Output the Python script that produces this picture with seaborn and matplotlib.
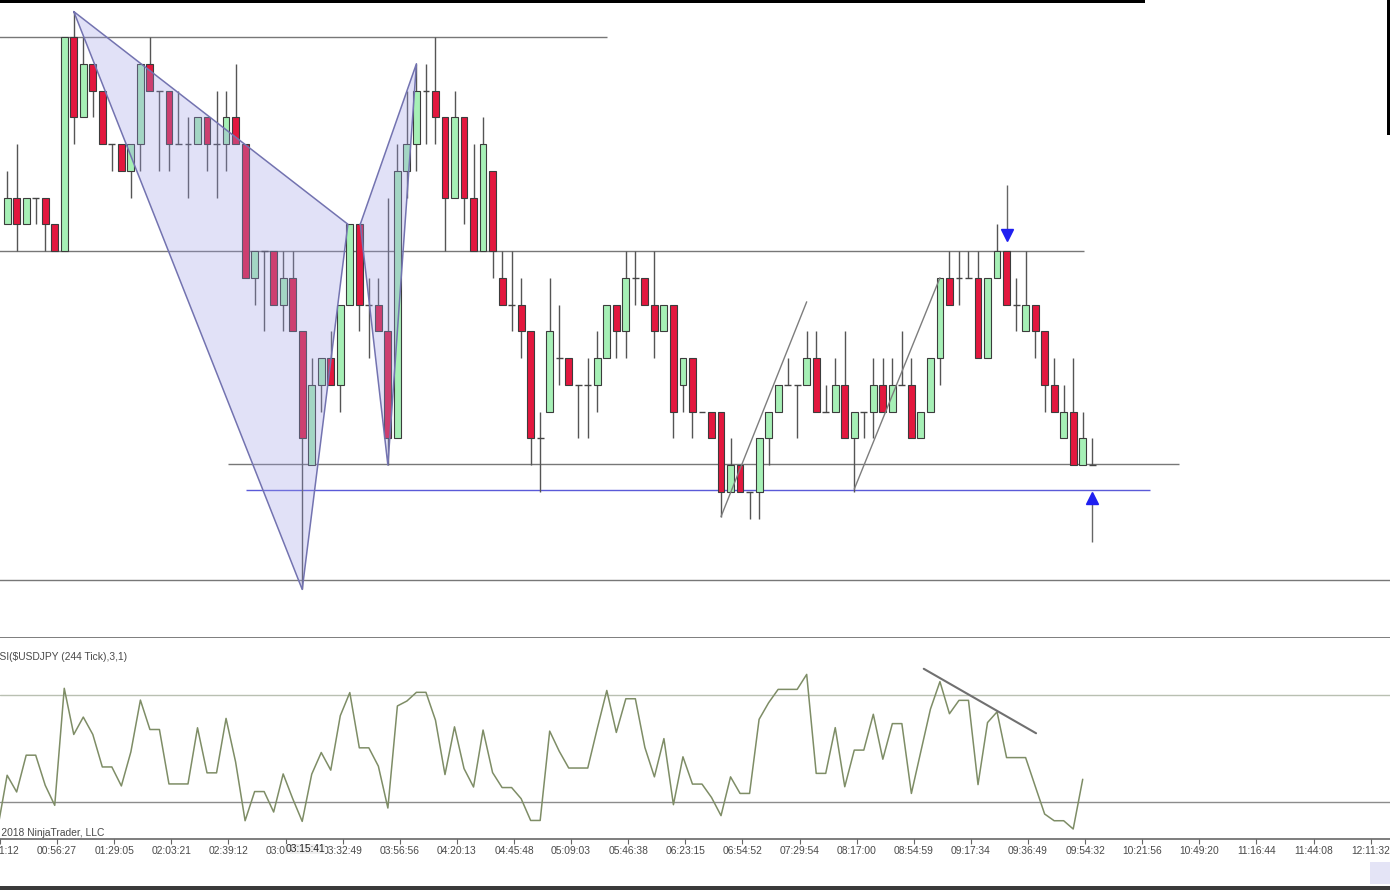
import matplotlib.pyplot as plt
import numpy as np
import pandas as pd
import seaborn as sns
from matplotlib.patches import Rectangle

# price in tick levels (one level = one box on the chart), one entry per bar
opens = [13, 14, 13, 14, 14, 13, 12, 20, 17, 19,
         18, 16, 16, 15, 16, 19, 18, 18, 16, 16,
         16, 17, 16, 16, 17, 16, 11, 12, 12, 10,
         11, 9, 4, 7, 8, 7, 10, 13, 10, 10,
         9, 5, 15, 16, 18, 18, 17, 14, 17, 14,
         12, 15, 11, 10, 10, 9, 5, 6, 8, 8,
         7, 7, 7, 8, 10, 9, 11, 11, 10, 9,
         10, 7, 8, 6, 6, 6, 3, 4, 3, 3,
         5, 6, 7, 7, 7, 8, 6, 6, 7, 5,
         6, 6, 7, 6, 7, 7, 5, 6, 8, 11,
         11, 11, 11, 8, 11, 12, 10, 9, 10, 9,
         7, 5, 6, 4, 4]
closes = [14, 13, 14, 14, 13, 12, 20, 17, 19, 18,
          16, 16, 15, 16, 19, 18, 18, 16, 16, 16,
          17, 16, 16, 17, 16, 11, 12, 12, 10, 11,
          9, 5, 7, 8, 7, 10, 13, 10, 10, 9,
          5, 15, 16, 18, 18, 17, 14, 17, 14, 12,
          16, 12, 10, 10, 9, 5, 5, 9, 8, 7,
          7, 7, 8, 10, 9, 11, 11, 10, 9, 10,
          6, 8, 6, 6, 5, 3, 4, 3, 3, 5,
          6, 7, 7, 7, 8, 6, 6, 7, 5, 6,
          6, 7, 6, 7, 7, 5, 6, 8, 11, 10,
          11, 11, 8, 11, 12, 10, 10, 10, 9, 7,
          6, 6, 4, 5, 4]
highs = [15, 16, 14, 14, 14, 13, 20, 20.95, 20, 19,
         18, 16, 16, 16, 19, 20, 18, 18, 18, 17,
         17, 17, 18, 18, 19, 16, 12, 12, 12, 12,
         12, 9, 8, 8, 9, 10, 13, 13, 11, 11,
         14, 16, 18, 19, 19, 20, 17, 18, 17, 16,
         17, 15, 12, 12, 11, 9, 6, 11, 10, 8,
         7, 8, 9, 10, 10, 12, 12, 11, 12, 10,
         10, 8, 8, 6, 6, 6, 5, 4, 3, 5,
         6, 7, 8, 7, 9, 9, 7, 8, 9, 6,
         6, 8, 8, 8, 9, 8, 6, 8, 11, 12,
         12, 12, 12, 11, 13, 12, 11, 12, 10, 9,
         8, 7, 8, 6, 5]
lows = [13, 12, 13, 13, 12, 12, 12, 16, 17, 17,
        16, 15, 15, 14, 15, 18, 15, 15, 16, 14,
        16, 15, 14, 15, 16, 11, 10, 9, 10, 9,
        9, -0.65, 4, 6, 7, 6, 10, 9, 8, 9,
        4, 5, 14, 15, 16, 16, 12, 14, 13, 12,
        12, 11, 10, 9, 8, 4, 3, 6, 7, 7,
        5, 5, 6, 8, 8, 8, 10, 10, 8, 9,
        5, 6, 5, 6, 5, 2.07, 3, 3, 2, 2,
        4, 6, 7, 5, 7, 6, 6, 6, 5, 3,
        5, 5, 6, 6, 7, 5, 5, 6, 7, 10,
        10, 11, 8, 8, 11, 10, 9, 9, 8, 6,
        6, 5, 4, 4, 4]

# RSI(3,1), first value belongs to the bar just left of the visible window
rsi_values = [20, 40, 33.75, 47.5, 47.5, 36.25, 28.75, 72.5, 55.25, 61.75,
              55.25, 43.1, 43.1, 36, 48.75, 68.1, 57.1, 57.1, 36.75, 36.75,
              36.75, 57.75, 40.9, 40.9, 61.25, 45, 23, 33.9, 33.9, 26.25,
              40.5, 31.25, 22.75, 40.4, 48.5, 41.9, 62.25, 70.9, 50.25, 50.25,
              43.4, 27.75, 65.9, 67.75, 71, 71, 60.6, 40.25, 58.1, 42.5,
              35.6, 56.9, 41, 35.4, 35.4, 31.25, 23.1, 23.1, 56.5, 49,
              42.7, 42.7, 42.7, 57.5, 71.7, 56, 68.6, 68.6, 50.4, 39.4,
              53.7, 29, 46.9, 36.7, 36.7, 31.7, 24.9, 39.4, 33.2, 33.2,
              60.9, 67.1, 72.1, 72.1, 72.1, 77.7, 40.7, 40.7, 57.8, 35.7,
              49.4, 49.4, 62.8, 46, 59.3, 59.3, 33.2, 49, 64.7, 75,
              63, 68, 68, 36.5, 59.7, 63.7, 46.6, 46.6, 46.6, 36,
              25.5, 23, 23, 19.9, 38.5]
rsi_levels = [70, 30]

time_labels = ["00:31:12", "00:56:27", "01:29:05", "02:03:21", "02:39:12", "03:07:35",
               "03:32:49", "03:56:56", "04:20:13", "04:45:48", "05:09:03", "05:46:38",
               "06:23:15", "06:54:52", "07:29:54", "08:17:00", "08:54:59", "09:17:34",
               "09:36:49", "09:54:32", "10:21:56", "10:49:20", "11:16:44", "11:44:08",
               "12:11:32"]
cursor_label = "03:15:41"

# drawing objects (bar index, price level)
pattern_xab = [(7, 20.95), (31, -0.65), (35.8, 13.0)]
pattern_bcd = [(37.1, 13.0), (43, 19.0), (40, 4.0)]
zigzag_1 = [(75, 2.07), (84, 10.1)]
zigzag_2 = [(89, 3.1), (98, 11.0)]
h_lines = [(20, -1, 63), (12, -1, 113.1), (4.04, 23.2, 123.1), (-0.3, -1, 146)]
blue_line = (3.07, 25.05, 120.1)
short_arrow = (105, 14.47, 12.6)
long_arrow = (114, 1.13, 2.75)
rsi_divergence = [(96.3, 79.8), (108.1, 55.7)]

sns.set_theme(style="white")
plt.rcParams["font.family"] = ["Liberation Sans", "DejaVu Sans"]

df = pd.DataFrame({"open": opens, "high": highs, "low": lows, "close": closes})
df["bar"] = np.arange(len(df))
rsi = pd.DataFrame({"bar": np.arange(-1, len(rsi_values) - 1), "rsi": rsi_values})

W, H = 1390, 890
fig = plt.figure(figsize=(W / 100, H / 100), dpi=100)
fig.patch.set_facecolor("white")
ax = fig.add_axes([0, 1 - 638 / H, 1, 638 / H])
ax2 = fig.add_axes([0, 1 - 839 / H, 1, 201 / H], sharex=ax)

bar_px = 9.54
x_left = -4 / bar_px
ax.set_xlim(x_left, x_left + W / bar_px)
ax.set_ylim(20 - (638 - 37) / 26.75, 20 + 37 / 26.75)

green = "#a6f0b6"
red = "#e3173e"
up = df["close"] > df["open"]
down = df["close"] < df["open"]
flat = df["close"] == df["open"]

ax.vlines(df["bar"], df["low"], df["high"], color="#555555", lw=1, zorder=2)
ax.bar(df.loc[up, "bar"], df.loc[up, "close"] - df.loc[up, "open"], bottom=df.loc[up, "open"],
       width=0.72, color=green, edgecolor="#3c3c3c", linewidth=0.8, zorder=3)
ax.bar(df.loc[down, "bar"], df.loc[down, "open"] - df.loc[down, "close"], bottom=df.loc[down, "close"],
       width=0.72, color=red, edgecolor="#3c3c3c", linewidth=0.8, zorder=3)
ax.hlines(df.loc[flat, "close"], df.loc[flat, "bar"] - 0.36, df.loc[flat, "bar"] + 0.36,
          color="#444444", lw=1, zorder=3)

for y, x0, x1 in h_lines:
    ax.hlines(y, x0, x1, color="#777777", lw=1.0, zorder=1)
ax.hlines(blue_line[0], blue_line[1], blue_line[2], color="#5a5ad8", lw=1.0, zorder=1)

for tri in (pattern_xab, pattern_bcd):
    xs = [p[0] for p in tri]
    ys = [p[1] for p in tri]
    ax.fill(xs, ys, facecolor="#9d9de6", alpha=0.3, edgecolor="none", zorder=4)
    ax.plot(xs + xs[:1], ys + ys[:1], color="#7373b0", lw=1.1, zorder=5)

for seg in (zigzag_1, zigzag_2):
    ax.plot([p[0] for p in seg], [p[1] for p in seg], color="#7d7d7d", lw=1.0, zorder=5)

# signal arrows
bx, top, head = short_arrow
ax.vlines(bx, head, top, color="#666666", lw=1, zorder=5)
ax.plot([bx], [head], marker="v", ms=9, color="#1f1ff0", mec="#1f1ff0", zorder=6)
bx, bottom, head = long_arrow
ax.vlines(bx, bottom, head, color="#666666", lw=1, zorder=5)
ax.plot([bx], [head], marker="^", ms=9, color="#1f1ff0", mec="#1f1ff0", zorder=6)

ax.tick_params(axis="both", which="both", bottom=False, left=False,
               labelbottom=False, labelleft=False)
for s in ["top", "left", "right"]:
    ax.spines[s].set_visible(False)
ax.spines["bottom"].set_color("#5a5a5a")
ax.spines["bottom"].set_linewidth(1.1)

# RSI panel
ax2.set_ylim(30 - (839 - 802) / 2.675, 70 + (695 - 638) / 2.675)
ax2.axhline(rsi_levels[0], color="#b9c0b2", lw=1.0, zorder=1)
ax2.axhline(rsi_levels[1], color="#8c8c8c", lw=1.0, zorder=1)
sns.lineplot(data=rsi, x="bar", y="rsi", ax=ax2, color="#7e8d66", lw=1.1, zorder=3)
ax2.plot([p[0] for p in rsi_divergence], [p[1] for p in rsi_divergence],
         color="#707070", lw=1.5, zorder=4)

ticks = 5.25 + 6 * np.arange(-1, len(time_labels) - 1)
ax2.set_xticks(ticks)
ax2.set_xticklabels(time_labels, fontsize=7.4, color="#4a4a4a")
ax2.tick_params(axis="x", length=3.5, width=0.8, color="#666666", pad=1.2, bottom=True)
ax2.set_yticks([])
ax2.set_xlabel("")
ax2.set_ylabel("")
for s in ["top", "left", "right"]:
    ax2.spines[s].set_visible(False)
ax2.spines["bottom"].set_color("#5a5a5a")
ax2.spines["bottom"].set_linewidth(1.1)

fig.text(305 / W, 1 - 849 / H, cursor_label, fontsize=7.4, color="#222222", ha="center", va="center",
         bbox=dict(facecolor="#f0f0f0", edgecolor="none", pad=0.3))
fig.text(-8 / W, 1 - 657 / H, "RSI($USDJPY (244 Tick),3,1)", fontsize=7.4, color="#4a4a4a",
         ha="left", va="center")
fig.text(-9 / W, 1 - 833 / H, "© 2018 NinjaTrader, LLC", fontsize=7.4, color="#4a4a4a",
         ha="left", va="center")

# edges of the photographed screen
fig.patches.append(Rectangle((0, 1 - 3 / H), 1145 / W, 3 / H, transform=fig.transFigure,
                             facecolor="black", edgecolor="none"))
fig.patches.append(Rectangle((1387 / W, 1 - 135 / H), 3 / W, 135 / H, transform=fig.transFigure,
                             facecolor="black", edgecolor="none"))
fig.patches.append(Rectangle((0, 0), 1, 4 / H, transform=fig.transFigure,
                             facecolor="#3a3a3a", edgecolor="none"))
fig.patches.append(Rectangle((1370 / W, 6 / H), 20 / W, 22 / H, transform=fig.transFigure,
                             facecolor="#e4e4f6", edgecolor="none"))

fig.savefig("out.png", dpi=100)
